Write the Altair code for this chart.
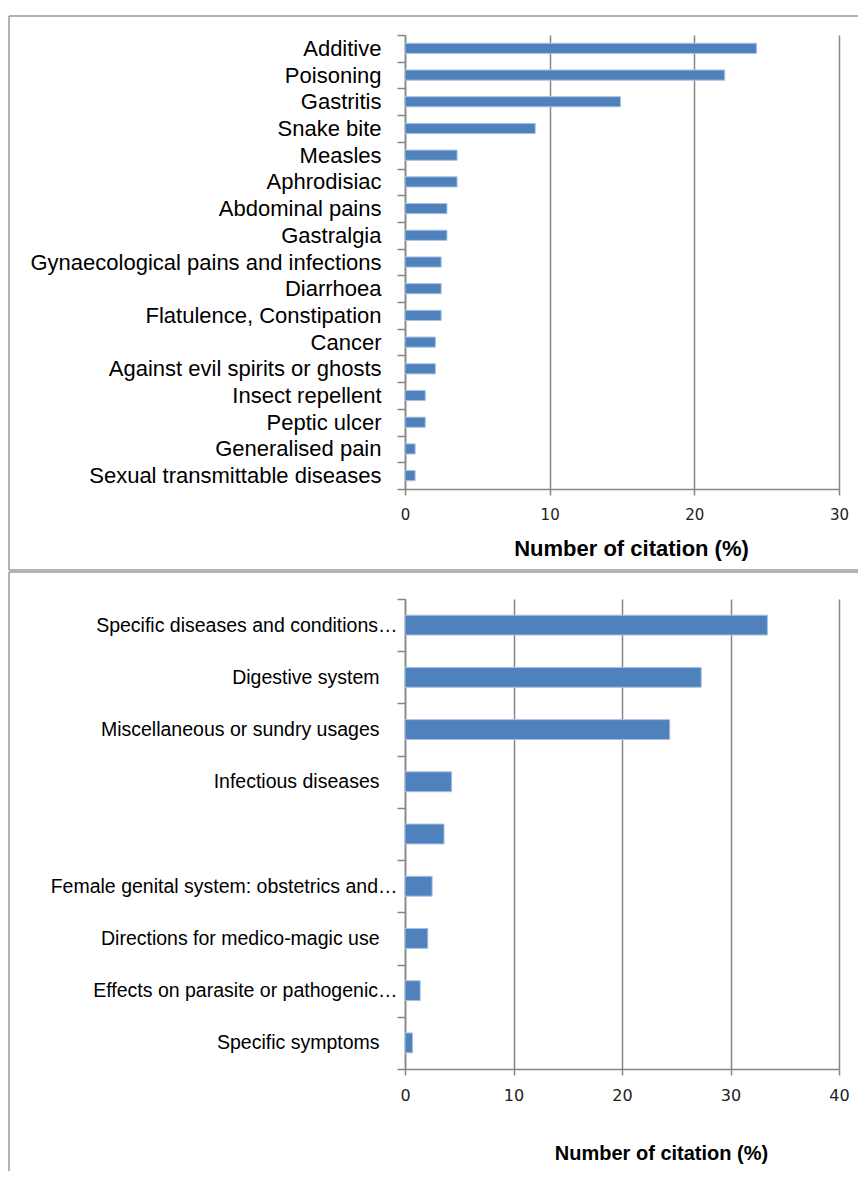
import altair as alt
import pandas as pd

# ---- data ----
top_labels = [
    "Additive", "Poisoning", "Gastritis", "Snake bite", "Measles", "Aphrodisiac",
    "Abdominal pains", "Gastralgia", "Gynaecological pains and infections",
    "Diarrhoea", "Flatulence, Constipation", "Cancer",
    "Against evil spirits or ghosts", "Insect repellent", "Peptic ulcer",
    "Generalised pain", "Sexual transmittable diseases",
]
top_values = [24.3, 22.1, 14.9, 9.0, 3.6, 3.6, 2.9, 2.9, 2.5, 2.5, 2.5, 2.1, 2.1,
              1.4, 1.4, 0.7, 0.7]
top_ticks = [0, 10, 20, 30]

bottom_labels = [
    "Specific diseases and conditions\u2026", "Digestive system",
    "Miscellaneous or sundry usages", "Infectious diseases", " ",
    "Female genital system: obstetrics and\u2026",
    "Directions for medico-magic use", "Effects on parasite or pathogenic\u2026",
    "Specific symptoms",
]
bottom_values = [33.4, 27.3, 24.4, 4.3, 3.6, 2.5, 2.1, 1.4, 0.7]
bottom_ticks = [0, 10, 20, 30, 40]

x_title = "Number of citation (%)"

BAR = "#4F81BD"
BAR_EDGE = "#A9C1DF"
GRID = "#868686"
FRAME = "#9A9A9A"
FONT = "Liberation Sans, Arial, sans-serif"
TICKFONT = "DejaVu Sans, Verdana, sans-serif"

W1, H1 = 434, 454
W2, H2 = 434, 470

frame_df = pd.DataFrame({"k": [0]})


def frame_lines(left, right, top, bottom, draw_bottom):
    base = alt.Chart(frame_df).mark_rule(color=FRAME, strokeWidth=1.5)
    parts = [
        base.encode(x=alt.value(left), y=alt.value(top), y2=alt.value(bottom)),
        base.encode(x=alt.value(left), x2=alt.value(right), y=alt.value(top)),
    ]
    if draw_bottom:
        parts.append(
            base.encode(x=alt.value(left), x2=alt.value(right), y=alt.value(bottom))
        )
    return parts


def panel(labels, values, ticks, width, height, label_size, label_pad,
          tick_label_size, tick_label_pad, title_size, title_x, title_y,
          frame_y, draw_bottom):
    df = pd.DataFrame({"use": labels, "pct": values})
    bars = alt.Chart(df).mark_bar(
        color=BAR, stroke=BAR_EDGE, strokeWidth=1, height={"band": 0.38}
    ).encode(
        x=alt.X(
            "pct:Q",
            scale=alt.Scale(domain=[ticks[0], ticks[-1]], nice=False),
            axis=alt.Axis(
                values=ticks, title=x_title, grid=True, gridColor=GRID,
                gridWidth=1.5, domainColor=GRID, domainWidth=1.5, tickColor=GRID,
                tickWidth=1.5, tickSize=6, labelFont=TICKFONT,
                labelFontSize=tick_label_size, labelColor="#222222",
                labelPadding=tick_label_pad, labelFlush=False, titleFont=FONT,
                titleFontSize=title_size, titleFontWeight="bold", titleColor="black",
                titleX=title_x, titleY=title_y, titleBaseline="alphabetic",
                titleAlign="center",
            ),
        ),
        y=alt.Y(
            "use:N", sort=labels,
            scale=alt.Scale(paddingInner=0, paddingOuter=0),
            axis=alt.Axis(
                title=None, tickBand="extent", domainColor=GRID, domainWidth=1.5,
                tickColor=GRID, tickWidth=1.5, tickSize=8, labelFont=FONT,
                labelFontSize=label_size, labelColor="black",
                labelPadding=label_pad, labelLimit=400,
            ),
        ),
    )
    frames = frame_lines(-396, 453, frame_y[0], frame_y[1], draw_bottom)
    return alt.layer(*frames, bars).properties(width=width, height=height)


top_chart = panel(
    top_labels, top_values, top_ticks, W1, H1, 22, 16, 15, 12, 22, 226, 66,
    (-19, 535), True,
)
bottom_pad = {
    "condition": {"test": "indexof(datum.label, '\u2026') >= 0", "value": 0},
    "value": 18,
}
bottom_chart = panel(
    bottom_labels, bottom_values, bottom_ticks, W2, H2, 19.5, bottom_pad, 16, 12,
    20, 256, 90, (-27, 572), False,
)

chart = alt.vconcat(
    top_chart, bottom_chart, spacing=110, bounds="flush"
).properties(
    padding={"top": 7, "left": 0, "right": 0, "bottom": 0}
).configure_view(stroke=None)

chart.save("out.html", embed_options={"renderer": "svg", "actions": False})
